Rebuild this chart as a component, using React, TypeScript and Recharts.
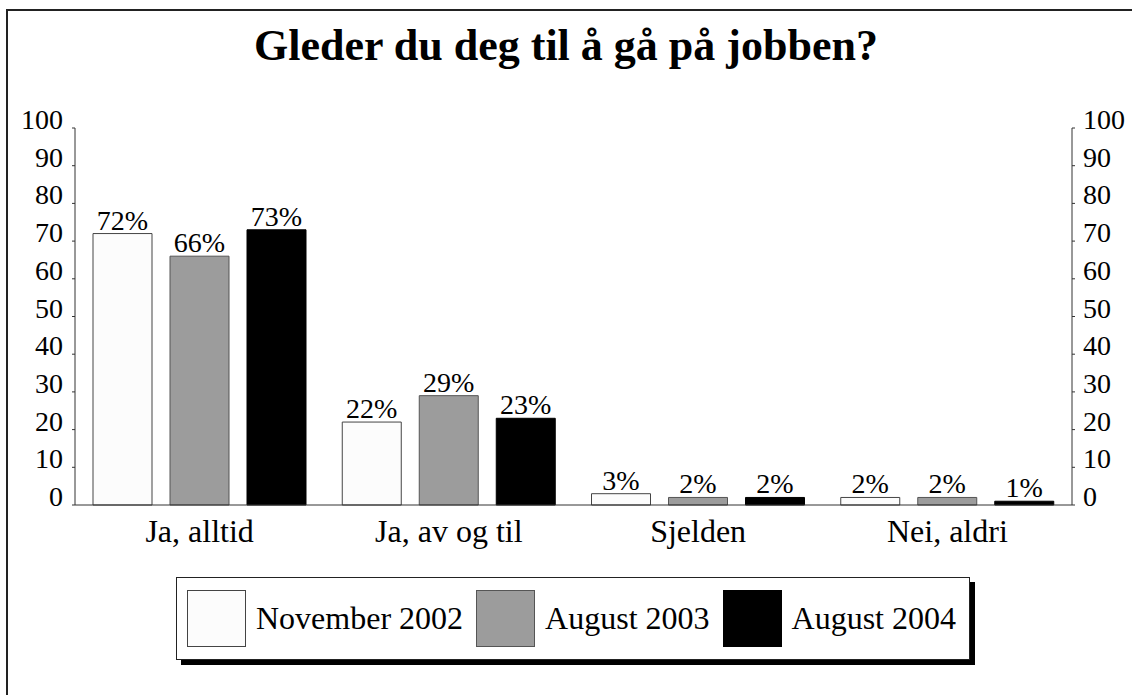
import React from 'react';
import { BarChart, Bar, XAxis, YAxis, LabelList } from 'recharts';

const categories = ['Ja, alltid', 'Ja, av og til', 'Sjelden', 'Nei, aldri'];
const nov2002 = [72, 22, 3, 2];
const aug2003 = [66, 29, 2, 2];
const aug2004 = [73, 23, 2, 1];
const yTicks = [0, 10, 20, 30, 40, 50, 60, 70, 80, 90, 100];

const series = [
  { key: 'nov2002', name: 'November 2002', fill: '#fcfcfc', stroke: '#444', axis: 'left' },
  { key: 'aug2003', name: 'August 2003', fill: '#9c9c9c', stroke: '#555', axis: 'left' },
  { key: 'aug2004', name: 'August 2004', fill: '#000000', stroke: '#000', axis: 'right' },
];

const data = categories.map((c, i) => ({
  name: c,
  nov2002: nov2002[i],
  aug2003: aug2003[i],
  aug2004: aug2004[i],
}));

const FONT = '"Liberation Serif", "Times New Roman", serif';

const YTick = (props: any) => {
  const { x, y, payload, textAnchor } = props;
  return (
    <text x={x} y={y + 1} textAnchor={textAnchor} fontFamily={FONT} fontSize={28} fill="#000">
      {payload.value}
    </text>
  );
};

const XTick = (props: any) => {
  const { x, y, payload } = props;
  return (
    <text x={x} y={y} dy={23} textAnchor="middle" fontFamily={FONT} fontSize={32} fill="#000">
      {payload.value}
    </text>
  );
};

const App: React.FC = () => {
  return (
    <div style={{ position: 'absolute', left: 0, top: 0, width: 1132, height: 695, overflow: 'hidden', background: '#fff' }}>
      <div style={{ position: 'absolute', left: 6, top: 9, width: 1200, height: 800, border: '2px solid #222' }} />
      <div
        style={{
          position: 'absolute', left: 0, top: 24, width: 1132, textAlign: 'center',
          fontFamily: FONT, fontWeight: 'bold', fontSize: 44, lineHeight: '44px', color: '#000',
        }}
      >
        Gleder du deg til å gå på jobben?
      </div>
      <div style={{ position: 'absolute', left: 0, top: 0 }}>
        <BarChart
          width={1132}
          height={695}
          data={data}
          margin={{ top: 128, right: 0, bottom: 150, left: 0 }}
          barCategoryGap={18}
          barGap={18}
        >
          <XAxis
            dataKey="name"
            height={40}
            tickLine={false}
            tickSize={0}
            tickMargin={14}
            axisLine={{ stroke: '#333' }}
            tick={<XTick />}
            interval={0}
          />
          <YAxis
            yAxisId="left"
            orientation="left"
            width={75}
            domain={[0, 100]}
            ticks={yTicks}
            interval={0}
            tickSize={3}
            tickMargin={9}
            axisLine={{ stroke: '#333' }}
            tickLine={{ stroke: '#333' }}
            tick={<YTick />}
          />
          <YAxis
            yAxisId="right"
            orientation="right"
            width={60}
            domain={[0, 100]}
            ticks={yTicks}
            interval={0}
            tickSize={3}
            tickMargin={8}
            axisLine={{ stroke: '#333' }}
            tickLine={{ stroke: '#333' }}
            tick={<YTick />}
          />
          {series.map((s) => (
            <Bar
              key={s.key}
              yAxisId={s.axis}
              dataKey={s.key}
              name={s.name}
              fill={s.fill}
              stroke={s.stroke}
              strokeWidth={1}
              isAnimationActive={false}
            >
              <LabelList
                dataKey={s.key}
                position="top"
                offset={4}
                formatter={(v: any) => `${v}%`}
                fill="#000"
                fontFamily={FONT}
                fontSize={28}
              />
            </Bar>
          ))}
        </BarChart>
      </div>
      <div
        style={{
          position: 'absolute', left: 176, top: 577, width: 794, height: 83,
          border: '1px solid #222', boxShadow: '5px 5px 0 #000', background: '#fff',
          display: 'flex', alignItems: 'center', paddingLeft: 10, boxSizing: 'border-box',
          fontFamily: FONT, fontSize: 32, color: '#000',
        }}
      >
        {series.map((s) => (
          <div key={s.key} style={{ display: 'flex', alignItems: 'center', marginRight: 13 }}>
            <div style={{ width: 59, height: 57, background: s.fill, border: `1px solid ${s.stroke}`, boxSizing: 'border-box', marginRight: 10 }} />
            <span style={{ whiteSpace: 'nowrap' }}>{s.name}</span>
          </div>
        ))}
      </div>
    </div>
  );
};

export default App;
